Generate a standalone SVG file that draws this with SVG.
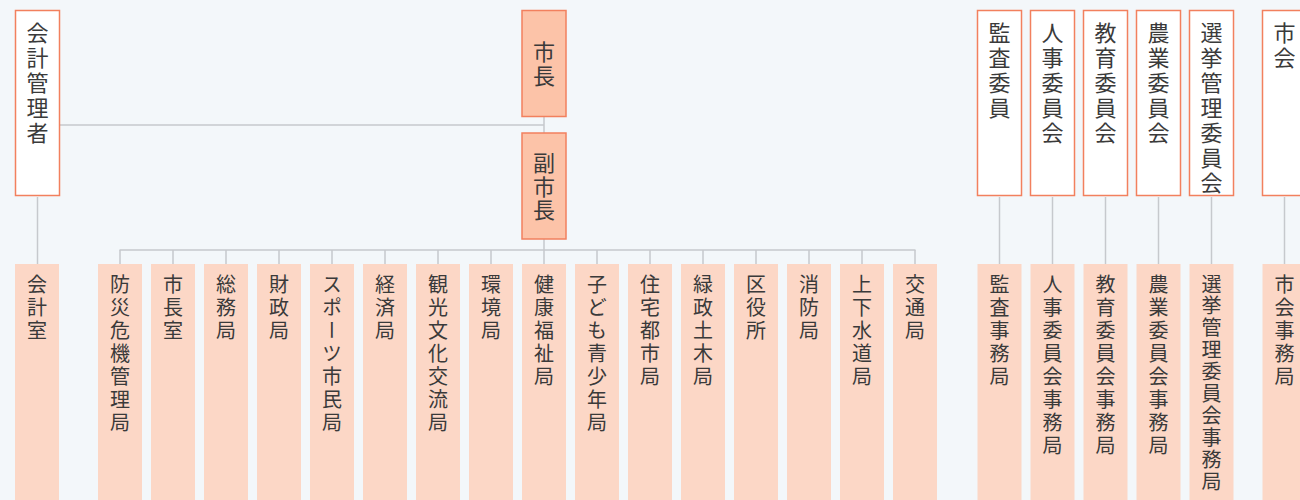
<svg xmlns="http://www.w3.org/2000/svg" width="1300" height="500" viewBox="0 0 1300 500">
<style>
.bg{fill:#f3f7fa}
.top rect{fill:#ffffff;stroke:#f2805e;stroke-width:1.5}
.mid rect{fill:#fcc3a8;stroke:#f2805e;stroke-width:1.5}
.sub rect{fill:#fcd7c6;stroke:none}
text{font-family:"Noto Sans CJK JP","Noto Sans CJK SC",sans-serif;fill:#3a3a3a;writing-mode:vertical-rl;text-orientation:mixed}
.top text{font-size:22px;letter-spacing:3px}
.mid text{font-size:22px;letter-spacing:1.5px;text-anchor:middle}
.sub text{font-size:20px;letter-spacing:3px}
.conn line{stroke:#c6c9cd;stroke-width:1.5;fill:none}
</style>
<rect class="bg" x="0" y="0" width="1300" height="500"/>
<g class="conn">
<line x1="60" y1="125" x2="544" y2="125"/>
<line x1="544" y1="117" x2="544" y2="133"/>
<line x1="544" y1="239" x2="544" y2="250"/>
<line x1="119.5" y1="250" x2="915.5" y2="250"/>
<line x1="120" y1="250" x2="120" y2="264"/>
<line x1="173" y1="250" x2="173" y2="264"/>
<line x1="226" y1="250" x2="226" y2="264"/>
<line x1="279" y1="250" x2="279" y2="264"/>
<line x1="332" y1="250" x2="332" y2="264"/>
<line x1="385" y1="250" x2="385" y2="264"/>
<line x1="438" y1="250" x2="438" y2="264"/>
<line x1="491" y1="250" x2="491" y2="264"/>
<line x1="544" y1="250" x2="544" y2="264"/>
<line x1="597" y1="250" x2="597" y2="264"/>
<line x1="650" y1="250" x2="650" y2="264"/>
<line x1="703" y1="250" x2="703" y2="264"/>
<line x1="756" y1="250" x2="756" y2="264"/>
<line x1="809" y1="250" x2="809" y2="264"/>
<line x1="862" y1="250" x2="862" y2="264"/>
<line x1="915" y1="250" x2="915" y2="264"/>
<line x1="37.5" y1="197" x2="37.5" y2="264"/>
<line x1="999.5" y1="197" x2="999.5" y2="264"/>
<line x1="1052.5" y1="197" x2="1052.5" y2="264"/>
<line x1="1105.5" y1="197" x2="1105.5" y2="264"/>
<line x1="1158.5" y1="197" x2="1158.5" y2="264"/>
<line x1="1211.5" y1="197" x2="1211.5" y2="264"/>
<line x1="1284.5" y1="197" x2="1284.5" y2="264"/>
</g>
<g id="kaikei-kanrisha" class="top"><rect x="15.5" y="10.5" width="44" height="185"/><text x="37.5" y="21.5">会計管理者</text></g>
<g id="kansa-iin" class="top"><rect x="977.5" y="10.5" width="44" height="185"/><text x="999.5" y="21.5">監査委員</text></g>
<g id="jinji-iinkai" class="top"><rect x="1030.5" y="10.5" width="44" height="185"/><text x="1052.5" y="21.5">人事委員会</text></g>
<g id="kyoiku-iinkai" class="top"><rect x="1083.5" y="10.5" width="44" height="185"/><text x="1105.5" y="21.5">教育委員会</text></g>
<g id="nogyo-iinkai" class="top"><rect x="1136.5" y="10.5" width="44" height="185"/><text x="1158.5" y="21.5">農業委員会</text></g>
<g id="senkyo-iinkai" class="top"><rect x="1189.5" y="10.5" width="44" height="185"/><text x="1211.5" y="21.5">選挙管理委員会</text></g>
<g id="shikai" class="top"><rect x="1262.5" y="10.5" width="44" height="185"/><text x="1284.5" y="21.5">市会</text></g>
<g id="shicho" class="mid"><rect x="522" y="10.5" width="44" height="106"/><text x="544" y="64.5">市長</text></g>
<g id="fukushicho" class="mid"><rect x="522" y="133" width="44" height="106"/><text x="544" y="187">副市長</text></g>
<g id="kaikeishitsu" class="sub"><rect x="15" y="264" width="44" height="240"/><text x="37" y="274">会計室</text></g>
<g id="bosai" class="sub"><rect x="98" y="264" width="44" height="240"/><text x="120" y="274">防災危機管理局</text></g>
<g id="shichoshitsu" class="sub"><rect x="151" y="264" width="44" height="240"/><text x="173" y="274">市長室</text></g>
<g id="somu" class="sub"><rect x="204" y="264" width="44" height="240"/><text x="226" y="274">総務局</text></g>
<g id="zaisei" class="sub"><rect x="257" y="264" width="44" height="240"/><text x="279" y="274">財政局</text></g>
<g id="sports" class="sub"><rect x="310" y="264" width="44" height="240"/><text x="332" y="274">スポーツ市民局</text></g>
<g id="keizai" class="sub"><rect x="363" y="264" width="44" height="240"/><text x="385" y="274">経済局</text></g>
<g id="kanko" class="sub"><rect x="416" y="264" width="44" height="240"/><text x="438" y="274">観光文化交流局</text></g>
<g id="kankyo" class="sub"><rect x="469" y="264" width="44" height="240"/><text x="491" y="274">環境局</text></g>
<g id="kenko" class="sub"><rect x="522" y="264" width="44" height="240"/><text x="544" y="274">健康福祉局</text></g>
<g id="kodomo" class="sub"><rect x="575" y="264" width="44" height="240"/><text x="597" y="274">子ども青少年局</text></g>
<g id="jutaku" class="sub"><rect x="628" y="264" width="44" height="240"/><text x="650" y="274">住宅都市局</text></g>
<g id="ryokusei" class="sub"><rect x="681" y="264" width="44" height="240"/><text x="703" y="274">緑政土木局</text></g>
<g id="kuyakusho" class="sub"><rect x="734" y="264" width="44" height="240"/><text x="756" y="274">区役所</text></g>
<g id="shobo" class="sub"><rect x="787" y="264" width="44" height="240"/><text x="809" y="274">消防局</text></g>
<g id="jogesuido" class="sub"><rect x="840" y="264" width="44" height="240"/><text x="862" y="274">上下水道局</text></g>
<g id="kotsu" class="sub"><rect x="893" y="264" width="44" height="240"/><text x="915" y="274">交通局</text></g>
<g id="kansa-jimukyoku" class="sub"><rect x="977.5" y="264" width="44" height="240"/><text x="999.5" y="274">監査事務局</text></g>
<g id="jinji-jimukyoku" class="sub"><rect x="1030.5" y="264" width="44" height="240"/><text x="1052.5" y="274">人事委員会事務局</text></g>
<g id="kyoiku-jimukyoku" class="sub"><rect x="1083.5" y="264" width="44" height="240"/><text x="1105.5" y="274">教育委員会事務局</text></g>
<g id="nogyo-jimukyoku" class="sub"><rect x="1136.5" y="264" width="44" height="240"/><text x="1158.5" y="274">農業委員会事務局</text></g>
<g id="senkyo-jimukyoku" class="sub"><rect x="1189.5" y="264" width="44" height="240"/><text x="1211.5" y="274" style="letter-spacing:1.9px">選挙管理委員会事務局</text></g>
<g id="shikai-jimukyoku" class="sub"><rect x="1262.5" y="264" width="44" height="240"/><text x="1284.5" y="274">市会事務局</text></g>
</svg>
